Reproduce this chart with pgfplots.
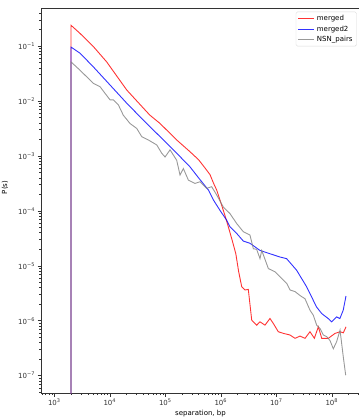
\documentclass[border=0pt]{standalone}
\usepackage{fontspec}
\setmainfont{DejaVu Sans}
\usepackage{pgfplots}
\pgfplotsset{compat=1.18}
\begin{document}
\fontsize{7}{8}\selectfont
\begin{tikzpicture}
\useasboundingbox (-41pt,-26pt) rectangle (317pt,393pt);
\begin{axis}[
  at={(0pt,0pt)}, anchor=south west,
  scale only axis, width=319pt, height=385pt,
  xmode=log, ymode=log, log basis x=10, log basis y=10,
  xmin=575, xmax=3.22e8, ymin=4.84e-8, ymax=0.492,
  axis line style={line width=0.6pt, black!80},
  tick align=outside, xtick pos=bottom, ytick pos=left,
  major tick length=3.5pt, minor tick length=2pt,
  every tick/.style={black!80, line width=0.5pt},
  xticklabel={\pgfmathtruncatemacro\e{round(\tick)}10\textsuperscript{\ifnum\e<0 −\number-\e\else\e\fi}},
  yticklabel={\pgfmathtruncatemacro\e{round(\tick)}10\textsuperscript{\ifnum\e<0 −\number-\e\else\e\fi}},
  tick label style={font=\fontsize{7}{8}\selectfont, black!80},
  xlabel={separation, bp},
  xlabel style={at={(axis description cs:0.5,0)}, anchor=center, yshift=-20.5pt, font=\fontsize{7}{8}\selectfont},
  legend style={at={(0.9897,0.9904)}, anchor=north east, draw=black!15, rounded corners=1.5pt,
    font=\fontsize{7}{8}\selectfont, inner xsep=2pt, inner ysep=1pt, nodes={inner ysep=2.2pt}},
  legend cell align=left,
  legend image code/.code={\draw[#1, line width=0.9pt] (0pt,0pt) -- (16pt,0pt);},
  every axis plot/.append style={no marks, line width=0.9pt, opacity=0.8},
  clip mode=individual,
]
\addplot[red] coordinates {
(2000,1e-12) (2000,0.2382) (2.90e3,0.1698) (5.05e3,0.0977) (8.79e3,0.0513)
(2.014e4,0.01585) (4.02e4,7.41e-3) (5.25e4,5.53e-3) (8.04e4,3.89e-3) (1.603e5,1.95e-3)
(2.786e5,1.19e-3) (3.98e5,8.51e-4) (5.01e5,6.31e-4) (6.38e5,4.57e-4) (7.41e5,3.16e-4)
(8.41e5,2.40e-4) (1e6,1.41e-4) (1.175e6,8.51e-5) (1.365e6,5.13e-5) (1.585e6,3.02e-5)
(1.862e6,1.66e-5) (2.09e6,7.94e-6) (2.377e6,4.17e-6) (2.729e6,3.63e-6) (3.126e6,3.72e-6)
(3.606e6,1.02e-6) (4.436e6,8.32e-7) (5.08e6,9.55e-7) (6.25e6,8.32e-7) (7.69e6,1.10e-6)
(8.83e6,8.91e-7) (1.086e7,6.31e-7) (1.337e7,5.89e-7) (1.766e7,5.50e-7) (2.173e7,4.79e-7)
(2.673e7,5.25e-7) (3.289e7,4.79e-7) (4.046e7,6.31e-7) (4.842e7,4.79e-7) (5.715e7,7.76e-7)
(6.577e7,4.79e-7) (8.65e7,4.79e-7) (1.143e8,5.89e-7) (1.406e8,6.31e-7) (1.61e8,6.03e-7)
(1.803e8,7.76e-7)
};
\addlegendentry{merged}
\addplot[blue] coordinates {
(2000,1e-12) (2000,0.0955) (2.90e3,0.0741) (5.05e3,0.0417) (1.009e4,0.0195)
(2.014e4,9.12e-3) (4.02e4,4.47e-3) (8.04e4,2.24e-3) (1.603e5,1.12e-3) (2.786e5,6.31e-4)
(3.98e5,3.98e-4) (5.96e5,2.40e-4) (7.33e5,1.585e-4) (9.66e5,1.02e-4) (1.274e6,6.76e-5)
(1.462e6,5.13e-5) (1.928e6,3.89e-5) (2.541e6,2.82e-5) (3.35e6,2.57e-5) (5.07e6,1.905e-5)
(7.67e6,1.66e-5) (1.161e7,1.445e-5) (1.531e7,1.35e-5) (2.317e7,8.32e-6) (3.508e7,4.17e-6)
(5.31e7,1.778e-6) (6.577e7,1.35e-6) (8.61e7,1.096e-6) (9.89e7,9.55e-7) (1.216e8,1.175e-6)
(1.396e8,1.096e-6) (1.603e8,1.55e-6) (1.8e8,2.82e-6)
};
\addlegendentry{merged2}
\addplot[gray] coordinates {
(2000,1e-12) (2000,0.0513) (2.90e3,0.0363) (5.05e3,0.0209) (6.65e3,0.0182)
(8.18e3,0.0138) (1.009e4,0.01047) (1.156e4,0.01047) (1.422e4,8.51e-3) (1.75e4,5.50e-3)
(2.312e4,3.89e-3) (3.055e4,3.16e-3) (3.758e4,2.24e-3) (4.94e4,1.95e-3) (7.0e4,1.585e-3)
(8.61e4,1.12e-3) (9.89e4,9.55e-4) (1.216e5,1.29e-3) (1.603e5,8.32e-4) (1.841e5,4.47e-4)
(2.113e5,5.89e-4) (2.6e5,3.63e-4) (3.428e5,3.16e-4) (4.217e5,3.39e-4) (5.56e5,2.57e-4)
(6.84e5,2.75e-4) (8.41e5,1.95e-4) (1.109e6,1.175e-4) (1.462e6,8.91e-5) (1.928e6,5.89e-5)
(2.541e6,4.17e-5) (3.35e6,3.63e-5) (3.855e6,2.04e-5) (4.416e6,2.0e-5) (5.08e6,1.35e-5)
(5.46e6,1.905e-5) (7.18e6,8.91e-6) (9.48e6,7.76e-6) (1.167e7,6.31e-6) (1.538e7,4.79e-6)
(1.766e7,3.63e-6) (2.173e7,3.39e-6) (2.673e7,2.88e-6) (3.289e7,2.51e-6) (4.046e7,1.55e-6)
(4.645e7,1.26e-6) (5.33e7,8.32e-7) (6.12e7,7.24e-7) (7.03e7,5.50e-7) (8.07e7,5.13e-7)
(9.27e7,4.37e-7) (1.064e8,3.09e-7) (1.222e8,4.17e-7) (1.406e8,6.76e-7) (1.61e8,2.19e-7)
(1.778e8,1.02e-7)
};
\addlegendentry{NSN\_pairs}
\node[rotate=90, anchor=center, font=\fontsize{7}{8}\selectfont] at (axis description cs:-0.113,0.534) {P(s)};
\end{axis}
\end{tikzpicture}
\end{document}
